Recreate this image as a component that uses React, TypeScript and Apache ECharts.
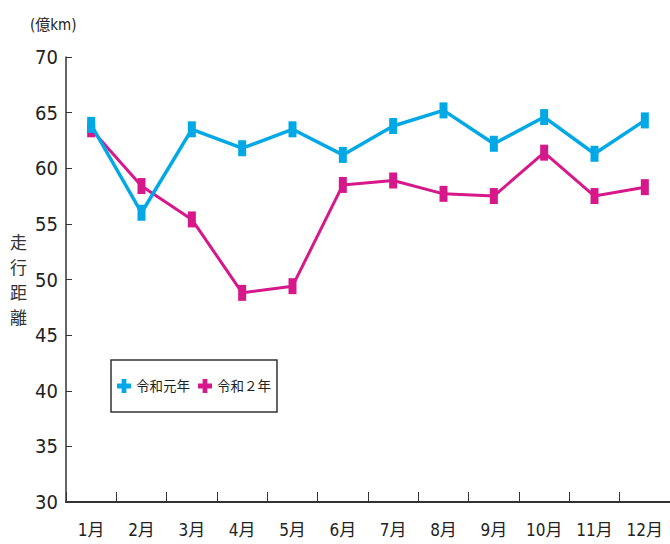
import React, { useEffect, useRef } from "react";
import * as echarts from "echarts";

const months = ["1月", "2月", "3月", "4月", "5月", "6月", "7月", "8月", "9月", "10月", "11月", "12月"];
const seriesNames = ["令和元年", "令和２年"];
const r1Values = [63.9, 56.0, 63.5, 61.8, 63.5, 61.2, 63.8, 65.2, 62.2, 64.6, 61.3, 64.3];
const r2Values = [63.5, 58.4, 55.4, 48.8, 49.4, 58.5, 58.9, 57.7, 57.5, 61.4, 57.5, 58.3];

const FONT = "'Liberation Sans Narrow', 'DejaVu Sans Condensed', 'Noto Sans CJK JP', sans-serif";
const PLUS = "path://M3.3,0 H6.7 V3.3 H10 V6.7 H6.7 V10 H3.3 V6.7 H0 V3.3 H3.3 Z";

export default function App() {
  const ref = useRef<HTMLDivElement>(null);
  useEffect(() => {
    if (!ref.current) return;
    const chart = echarts.init(ref.current, undefined, { renderer: "svg" });
    chart.setOption({
      animation: false,
      backgroundColor: "#ffffff",
      grid: { left: 66, top: 57, width: 610, height: 445, containLabel: false },
      legend: {
        left: 111,
        top: 360,
        orient: "horizontal",
        padding: [19, 6, 19, 6],
        itemGap: 8,
        itemWidth: 14,
        itemHeight: 14,
        borderColor: "#333333",
        borderWidth: 1.5,
        icon: PLUS,
        textStyle: { fontSize: 13.5, color: "#222222", fontFamily: FONT },
        data: seriesNames,
      },
      xAxis: {
        type: "category",
        data: months,
        boundaryGap: true,
        axisLine: { show: true, lineStyle: { color: "#333333", width: 2 } },
        axisTick: { show: true, inside: true, length: 10, alignWithLabel: false, lineStyle: { color: "#333333", width: 1 } },
        axisLabel: { margin: 19, fontSize: 17, color: "#222222", fontFamily: FONT },
        splitLine: { show: false },
      },
      yAxis: {
        type: "value",
        min: 30,
        max: 70,
        interval: 5,
        axisLine: { show: true, lineStyle: { color: "#333333", width: 1.5 } },
        axisTick: { show: true, inside: true, length: 6, lineStyle: { color: "#333333", width: 1 } },
        axisLabel: { margin: 8, fontSize: 20, color: "#222222", fontFamily: FONT },
        splitLine: { show: false },
      },
      graphic: [
        {
          type: "text",
          left: 30,
          top: 17,
          style: { text: "(億km)", fontSize: 15, fill: "#222222", fontFamily: FONT },
        },
        {
          type: "text",
          left: 10,
          top: 229,
          style: {
            text: "走\n行\n距\n離",
            fontSize: 17,
            lineHeight: 25,
            fill: "#333333",
            fontFamily: "'Noto Sans CJK JP', sans-serif",
          },
        },
      ],
      series: [
        {
          name: seriesNames[0],
          type: "line",
          data: r1Values,
          color: "#00a9e6",
          symbol: "rect",
          symbolSize: [8, 16],
          lineStyle: { width: 3.5, color: "#00a9e6" },
          itemStyle: { color: "#00a9e6" },
          z: 3,
        },
        {
          name: seriesNames[1],
          type: "line",
          data: r2Values,
          color: "#d6188b",
          symbol: "rect",
          symbolSize: [8, 16],
          lineStyle: { width: 3, color: "#d6188b" },
          itemStyle: { color: "#d6188b" },
          z: 2,
        },
      ],
    });
    return () => chart.dispose();
  }, []);
  return (
    <div
      ref={ref}
      style={{ position: "fixed", left: 0, top: 0, width: 670, height: 544 }}
    />
  );
}
